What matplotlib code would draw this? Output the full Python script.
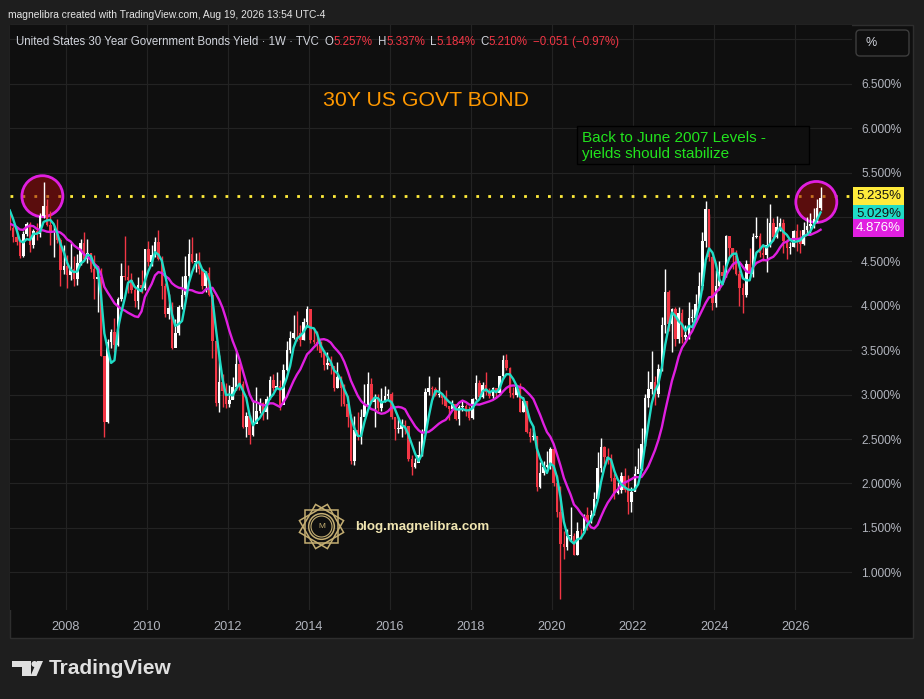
import matplotlib
matplotlib.use("Agg")
import matplotlib.pyplot as plt
import matplotlib.transforms as mtransforms
from matplotlib.patches import Rectangle, Ellipse, Circle, Polygon, FancyBboxPatch
import numpy as np
import pandas as pd

plt.rcParams['font.family'] = ['Liberation Sans', 'DejaVu Sans']

# monthly yields (%), Aug 2006 .. Aug 2026
start_month = "2006-08-01"
warmup_close = [4.53, 4.51, 4.90, 5.17, 5.16, 5.19, 5.07]   # Jan-Jul 2006, only for the averages

close_vals = [
    4.88, 4.77, 4.72, 4.56, 4.81,                                        # 2006
    4.92, 4.68, 4.84, 4.81, 5.01, 5.12, 4.91, 4.83, 4.83, 4.74, 4.40, 4.45,  # 2007
    4.35, 4.42, 4.30, 4.48, 4.71, 4.53, 4.59, 4.42, 4.30, 4.33, 3.44, 2.69,  # 2008
    3.59, 3.71, 3.56, 4.08, 4.34, 4.33, 4.29, 4.18, 4.05, 4.23, 4.20, 4.64,  # 2009
    4.49, 4.57, 4.72, 4.53, 4.22, 3.91, 3.98, 3.52, 3.69, 3.99, 4.12, 4.34,  # 2010
    4.58, 4.49, 4.51, 4.41, 4.22, 4.37, 4.12, 3.60, 2.91, 3.14, 3.04, 2.89,  # 2011
    2.94, 3.09, 3.34, 3.12, 2.64, 2.76, 2.55, 2.67, 2.82, 2.91, 2.81, 2.95,  # 2012
    3.17, 3.08, 3.10, 2.88, 3.28, 3.50, 3.64, 3.70, 3.69, 3.62, 3.82, 3.97,  # 2013
    3.61, 3.59, 3.56, 3.47, 3.33, 3.36, 3.32, 3.08, 3.20, 3.07, 2.89, 2.75,  # 2014
    2.25, 2.60, 2.54, 2.75, 2.88, 3.12, 2.92, 2.95, 2.85, 2.92, 2.98, 3.01,  # 2015
    2.75, 2.61, 2.61, 2.66, 2.65, 2.28, 2.18, 2.23, 2.32, 2.58, 3.03, 3.07,  # 2016
    3.06, 3.00, 3.01, 2.96, 2.87, 2.84, 2.90, 2.73, 2.86, 2.87, 2.83, 2.74,  # 2017
    2.95, 3.13, 2.97, 3.11, 3.03, 2.98, 3.08, 3.02, 3.21, 3.39, 3.30, 3.02,  # 2018
    3.00, 3.09, 2.81, 2.93, 2.58, 2.52, 2.53, 1.96, 2.12, 2.18, 2.21, 2.39,  # 2019
    2.00, 1.68, 1.32, 1.28, 1.41, 1.41, 1.19, 1.47, 1.46, 1.65, 1.57, 1.65,  # 2020
    1.83, 2.17, 2.41, 2.30, 2.29, 2.06, 1.89, 1.93, 2.08, 1.93, 1.79, 1.90,  # 2021
    2.11, 2.16, 2.44, 2.96, 3.06, 3.14, 3.01, 3.29, 3.78, 4.16, 3.80, 3.96,  # 2022
    3.63, 3.92, 3.65, 3.67, 3.86, 3.86, 4.02, 4.22, 4.73, 5.09, 4.55, 4.03,  # 2023
    4.22, 4.38, 4.34, 4.79, 4.65, 4.56, 4.36, 4.20, 4.12, 4.47, 4.36, 4.78,  # 2024
    4.79, 4.59, 4.57, 4.68, 4.93, 4.78, 4.89, 4.93, 4.73, 4.65, 4.66, 4.84,  # 2025
    4.75, 4.70, 4.85, 4.90, 4.92, 4.98, 5.10, 5.21,                      # 2026
]
high_vals = [
    5.07, 4.90, 4.88, 4.75, 4.84,
    4.95, 4.95, 4.87, 4.93, 5.05, 5.40, 5.20, 5.07, 4.90, 4.98, 4.76, 4.69,
    4.57, 4.71, 4.56, 4.58, 4.75, 4.83, 4.75, 4.60, 4.57, 4.45, 4.43, 3.44,
    3.63, 3.74, 3.86, 4.10, 4.48, 4.79, 4.46, 4.37, 4.21, 4.33, 4.40, 4.64,
    4.73, 4.69, 4.77, 4.86, 4.56, 4.26, 4.13, 4.04, 3.85, 4.01, 4.34, 4.56,
    4.75, 4.77, 4.60, 4.61, 4.43, 4.39, 4.44, 4.15, 3.58, 3.45, 3.23, 3.13,
    3.11, 3.20, 3.48, 3.33, 3.15, 2.80, 2.77, 2.94, 3.09, 2.96, 2.92, 2.98,
    3.21, 3.23, 3.26, 3.16, 3.34, 3.60, 3.72, 3.90, 3.94, 3.78, 3.86, 4.00,
    3.97, 3.75, 3.72, 3.60, 3.50, 3.48, 3.44, 3.32, 3.37, 3.21, 3.12, 2.99,
    2.78, 2.76, 2.80, 2.84, 3.12, 3.25, 3.19, 3.01, 3.01, 3.07, 3.10, 3.06,
    3.03, 2.75, 2.75, 2.73, 2.71, 2.65, 2.32, 2.29, 2.48, 2.61, 3.08, 3.21,
    3.10, 3.09, 3.20, 3.02, 3.05, 2.87, 2.94, 2.89, 2.88, 2.93, 2.89, 2.87,
    2.96, 3.22, 3.17, 3.14, 3.25, 3.07, 3.09, 3.08, 3.21, 3.45, 3.46, 3.31,
    3.09, 3.09, 3.13, 2.97, 2.93, 2.62, 2.65, 2.53, 2.24, 2.25, 2.37, 2.41,
    2.40, 2.10, 1.97, 1.47, 1.49, 1.73, 1.44, 1.57, 1.49, 1.66, 1.74, 1.70,
    1.90, 2.35, 2.51, 2.42, 2.40, 2.33, 2.12, 2.02, 2.13, 2.17, 2.10, 1.96,
    2.20, 2.40, 2.62, 3.01, 3.27, 3.49, 3.21, 3.34, 3.87, 4.42, 4.18, 3.98,
    3.99, 3.99, 3.97, 3.79, 4.04, 3.96, 4.13, 4.38, 4.83, 5.18, 5.03, 4.56,
    4.40, 4.50, 4.46, 4.80, 4.77, 4.65, 4.63, 4.40, 4.26, 4.52, 4.65, 4.82,
    5.00, 4.82, 4.70, 4.99, 5.15, 4.99, 5.01, 4.99, 4.98, 4.75, 4.72, 4.85,
    4.92, 4.85, 4.95, 5.00, 5.05, 5.10, 5.20, 5.34,
]
low_vals = [
    4.86, 4.72, 4.69, 4.54, 4.55,
    4.79, 4.61, 4.65, 4.74, 4.77, 4.99, 4.90, 4.69, 4.55, 4.71, 4.22, 4.36,
    4.20, 4.29, 4.22, 4.24, 4.46, 4.50, 4.48, 4.38, 4.08, 3.93, 3.44, 2.52,
    2.68, 3.52, 3.48, 3.55, 4.05, 4.29, 4.14, 4.15, 3.99, 3.97, 4.15, 4.18,
    4.45, 4.45, 4.55, 4.52, 4.08, 3.88, 3.85, 3.51, 3.55, 3.67, 3.96, 4.10,
    4.30, 4.48, 4.38, 4.36, 4.19, 4.16, 4.11, 3.41, 2.87, 2.80, 2.86, 2.85,
    2.86, 2.95, 3.05, 3.05, 2.62, 2.52, 2.44, 2.54, 2.74, 2.79, 2.71, 2.73,
    2.95, 3.04, 3.07, 2.83, 2.91, 3.27, 3.47, 3.63, 3.60, 3.55, 3.61, 3.76,
    3.58, 3.57, 3.50, 3.42, 3.28, 3.29, 3.23, 3.04, 3.07, 2.87, 2.87, 2.64,
    2.22, 2.21, 2.49, 2.45, 2.80, 2.88, 2.91, 2.64, 2.82, 2.82, 2.92, 2.94,
    2.73, 2.49, 2.57, 2.52, 2.56, 2.25, 2.09, 2.17, 2.28, 2.31, 2.57, 3.00,
    2.95, 2.99, 2.97, 2.89, 2.86, 2.71, 2.83, 2.71, 2.66, 2.82, 2.76, 2.72,
    2.73, 2.94, 2.96, 2.96, 3.00, 2.96, 2.95, 2.96, 3.00, 3.18, 3.28, 2.97,
    2.96, 2.97, 2.81, 2.80, 2.57, 2.47, 2.49, 1.91, 1.95, 2.10, 2.17, 2.16,
    1.97, 1.62, 0.70, 1.15, 1.25, 1.35, 1.19, 1.20, 1.37, 1.44, 1.48, 1.56,
    1.64, 1.84, 2.13, 2.22, 2.22, 2.03, 1.82, 1.88, 1.89, 1.90, 1.66, 1.68,
    1.92, 2.12, 2.15, 2.42, 2.86, 3.01, 2.88, 2.97, 3.27, 3.70, 3.72, 3.48,
    3.55, 3.58, 3.58, 3.61, 3.63, 3.82, 3.82, 4.00, 4.18, 4.66, 4.50, 3.95,
    3.99, 4.18, 4.30, 4.32, 4.54, 4.42, 4.35, 4.00, 3.92, 4.10, 4.33, 4.32,
    4.76, 4.55, 4.50, 4.38, 4.66, 4.73, 4.76, 4.84, 4.60, 4.53, 4.58, 4.66,
    4.62, 4.60, 4.68, 4.80, 4.82, 4.88, 4.95, 5.08,
]

hline_level = 5.235
teal_last, magenta_last = 5.029, 4.876
y_ticks = [1.0, 1.5, 2.0, 2.5, 3.0, 3.5, 4.0, 4.5, 5.0, 5.5, 6.0, 6.5, 7.0]
x_ticks = list(range(2008, 2027, 2))

# colours
BG_OUT = '#1e1e1e'
BG = '#0f0f0f'
GRID = '#232323'
UP = '#ffffff'
DOWN = '#f23645'
TEAL = '#1fdcc6'
MAGENTA = '#e01fe0'
LABEL = '#b2b5be'

# --- derived series
months = pd.date_range(start_month, periods=len(close_vals), freq='MS')
t = months.year + (months.month - 0.5) / 12.0
close = np.array(close_vals)
high = np.array(high_vals)
low = np.array(low_vals)
opn = np.concatenate([[warmup_close[-1]], close[:-1]])
all_close = pd.Series(warmup_close + close_vals)
k = len(warmup_close)
ma_fast = all_close.rolling(4, min_periods=1).mean().values[k:]
ma_slow = all_close.rolling(12, min_periods=1).mean().values[k:]

W, H = 924, 699
fig = plt.figure(figsize=(W / 100, H / 100), dpi=100, facecolor=BG_OUT)

def fx(px):
    return px / W

def fy(py):
    return 1 - py / H

# background layer in pixel coords
bg = fig.add_axes([0, 0, 1, 1], zorder=-1)
bg.set_xlim(0, W)
bg.set_ylim(H, 0)
bg.axis('off')
bg.add_patch(Rectangle((10, 25), 903, 613, fc=BG, ec='#2e2e2e', lw=1))

# main chart
ax = fig.add_axes([fx(10), fy(610), fx(852) - fx(10), fy(25) - fy(610)], zorder=1)
ax.set_facecolor(BG)
ax.set_xlim(2006.631, 2027.40)
ax.set_ylim(0.575, 7.163)
for s in ax.spines.values():
    s.set_visible(False)
ax.grid(True, color=GRID, lw=0.8)
ax.set_axisbelow(True)
ax.set_xticks(x_ticks)
ax.set_xticklabels([str(x) for x in x_ticks])
ax.yaxis.tick_right()
ax.set_yticks(y_ticks)
ax.set_yticklabels(['' if v in (5.0, 7.0) else f'{v:.3f}%' for v in y_ticks])
ax.tick_params(axis='x', length=0, pad=8, labelsize=9.2, labelcolor=LABEL)
ax.tick_params(axis='y', length=0, pad=6.5, labelsize=8.6, labelcolor=LABEL)

# dotted level line
ax.axhline(hline_level, color='#ffeb3b', lw=2, ls=(0, (1, 3.3)), dash_capstyle='butt', zorder=2)

# circles (annotation)
for cx, cy in [(2007.43, 5.235), (2026.52, 5.17)]:
    ax.add_patch(Ellipse((cx, cy), 2 * 20.5 / 40.55, 2 * 20.5 / 88.8,
                         fc=(0.6, 0.05, 0.05, 0.55), ec=MAGENTA, lw=2, zorder=2.5))

# candles
up = close >= opn
cols = np.where(up, UP, DOWN)
ax.vlines(t, low, high, colors=cols, lw=1.0, zorder=3)
body_lo = np.minimum(opn, close)
body_h = np.maximum(np.abs(close - opn), 0.01)
ax.bar(t, body_h, bottom=body_lo, width=0.062, color=cols, lw=0, zorder=3)

# moving averages
ax.plot(t, ma_slow, color=MAGENTA, lw=1.7, zorder=4)
ax.plot(t, ma_fast, color=TEAL, lw=1.7, zorder=4)

# price scale labels
tr = mtransforms.blended_transform_factory(ax.transAxes, ax.transData)
for val, fc, tc in [(hline_level, '#ffeb3b', '#131313'), (teal_last, TEAL, '#131313'),
                    (magenta_last, MAGENTA, '#ffffff')]:
    ax.text(1.0 + 4 / 842, val, f'{val:.3f}%', transform=tr, ha='left', va='center',
            fontsize=9.5, color=tc, clip_on=False, zorder=6,
            bbox=dict(boxstyle='square,pad=0.25', fc=fc, ec='none'))

# overlay in pixel coords
ov = fig.add_axes([0, 0, 1, 1], zorder=3)
ov.set_xlim(0, W)
ov.set_ylim(H, 0)
ov.axis('off')

ov.text(8, 15, 'magnelibra created with TradingView.com, Aug 19, 2026 13:54 UTC-4',
        color='#e6e6e6', fontsize=7.4, va='center', ha='left')

renderer = fig.canvas.get_renderer()
GREY = '#d1d4dc'
parts = [('United States 30 Year Government Bonds Yield · 1W · TVC', GREY, 6),
         ('O', GREY, 0), ('5.257%', DOWN, 5), ('H', GREY, 0), ('5.337%', DOWN, 5),
         ('L', GREY, 0), ('5.184%', DOWN, 5), ('C', GREY, 0), ('5.210%', DOWN, 5),
         ('\u22120.051 (\u22120.97%)', DOWN, 0)]
xx = 16
for s, c, gap in parts:
    tt = ov.text(xx, 42, s, color=c, fontsize=8.3, va='center', ha='left')
    xx += tt.get_window_extent(renderer=renderer).width + gap

# unit box
ov.add_patch(FancyBboxPatch((856, 30), 53, 26, boxstyle='round,pad=0,rounding_size=4',
                            fc='none', ec='#3d3d3d', lw=1))
ov.text(866, 43, '%', color=GREY, fontsize=9, va='center', ha='left')

# title and note
ov.text(323, 100, '30Y US GOVT BOND', color='#ff9800', fontsize=15.3, va='center', ha='left')
ov.add_patch(Rectangle((577, 126), 232, 38, fc=BG, ec='#000000', lw=1))
ov.text(582, 138, 'Back to June 2007 Levels -', color='#22e31e', fontsize=11, va='center', ha='left')
ov.text(582, 154, 'yields should stabilize', color='#22e31e', fontsize=11, va='center', ha='left')

# watermark
GOLD = '#c4ae72'
wm = fig.add_axes([fx(297), fy(551), 49 / W, 49 / H], zorder=2)
wm.set_xlim(-1.05, 1.05)
wm.set_ylim(-1.05, 1.05)
wm.axis('off')
for ang in (0, 30, 60):
    a = np.deg2rad(ang + 45 + np.arange(4) * 90)
    wm.add_patch(Polygon(np.c_[0.98 * np.cos(a), 0.98 * np.sin(a)], closed=True,
                         fc='none', ec=GOLD, lw=1.1))
wm.add_patch(Circle((0, 0), 0.55, fc=BG, ec=GOLD, lw=1.1))
wm.add_patch(Circle((0, 0), 0.45, fc='none', ec=GOLD, lw=0.8))
wm.text(0, 0, 'M', color=GOLD, fontsize=6, ha='center', va='center')
ov.text(355, 527, 'blog.magnelibra.com', color='#efe4b0', fontsize=9.6, fontweight='bold',
        va='center', ha='left')

# TradingView footer logo
LOGO = '#e0e0e0'
ov.add_patch(Rectangle((12, 661), 19, 6, fc=LOGO, ec='none'))
ov.add_patch(Rectangle((22, 661), 9, 15, fc=LOGO, ec='none'))
ov.add_patch(Circle((34.5, 664), 3.0, fc=LOGO, ec='none'))
ov.add_patch(Polygon([(37, 661), (43, 661), (36.5, 676), (30.5, 676)], closed=True, fc=LOGO, ec='none'))
ov.text(49, 669, 'TradingView', color=LOGO, fontsize=15, fontweight='bold', va='center', ha='left')

fig.savefig('out.png', dpi=100, facecolor=BG_OUT)
